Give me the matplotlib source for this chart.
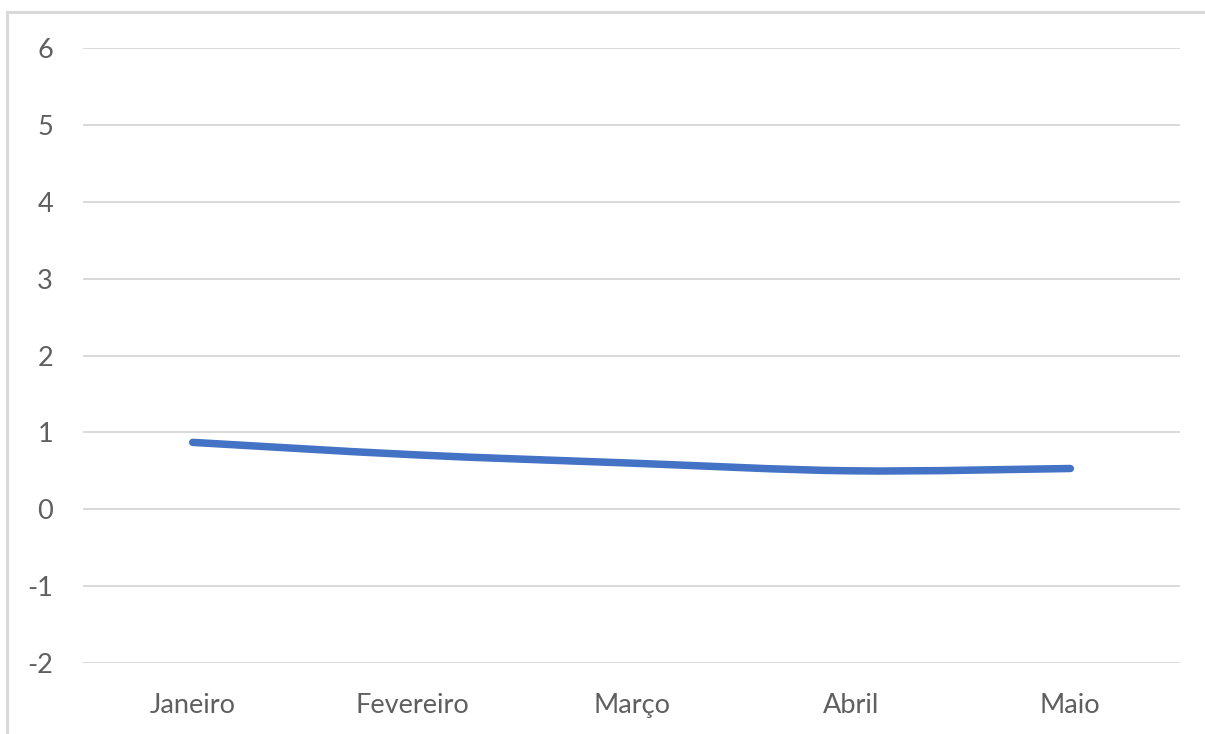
import numpy as np
import matplotlib
matplotlib.use("Agg")
import matplotlib.pyplot as plt
from matplotlib.path import Path
from matplotlib.patches import PathPatch
from matplotlib.lines import Line2D

# Monthly values
months = ["Janeiro", "Fevereiro", "Março", "Abril", "Maio"]
values = [0.87, 0.71, 0.60, 0.50, 0.53]
y_ticks = [-2, -1, 0, 1, 2, 3, 4, 5, 6]

plt.rcParams["font.family"] = ["Lato", "DejaVu Sans"]

W, H = 1205, 734
fig = plt.figure(figsize=(W / 100, H / 100), dpi=100)
ax = fig.add_axes([83 / W, (H - 663) / H, (1180 - 83) / W, (663 - 48) / H])

x = np.arange(len(months), dtype=float)
y = np.asarray(values, dtype=float)

# Smoothed line: Catmull-Rom segments expressed as cubic Bezier curves
pts = np.column_stack([x, y])
ext = np.vstack([pts[0], pts, pts[-1]])
verts = [tuple(pts[0])]
codes = [Path.MOVETO]
for i in range(len(pts) - 1):
    p0, p1, p2, p3 = ext[i], ext[i + 1], ext[i + 2], ext[i + 3]
    c1 = p1 + (p2 - p0) / 6.0
    c2 = p2 - (p3 - p1) / 6.0
    verts += [tuple(c1), tuple(c2), tuple(p2)]
    codes += [Path.CURVE4] * 3
ax.add_patch(PathPatch(Path(verts, codes), facecolor="none", edgecolor="#4472C4",
                       linewidth=5.4, capstyle="round", joinstyle="round", zorder=3))

ax.set_xlim(-0.5, len(months) - 0.5)
ax.set_ylim(-2, 6)
ax.set_yticks(y_ticks)
ax.set_yticklabels([str(t) for t in y_ticks])
ax.set_xticks(x)
ax.set_xticklabels(months)

ax.grid(axis="y", color="#d9d9d9", linewidth=1.4, zorder=0)
ax.grid(axis="x", visible=False)
for s in ax.spines.values():
    s.set_visible(False)
ax.tick_params(axis="both", length=0, labelsize=19.5, labelcolor="#5f5f5f")
ax.tick_params(axis="y", pad=21.5)
ax.tick_params(axis="x", pad=21.5)
ax.set_axisbelow(True)

# Chart area frame (left and top edges)
frame_kw = dict(color="#d9d9d9", linewidth=2.2, transform=fig.transFigure)
fig.add_artist(Line2D([7.5 / W, 7.5 / W], [0, 1 - 12 / H], **frame_kw))
fig.add_artist(Line2D([7.5 / W, 1], [1 - 12 / H, 1 - 12 / H], **frame_kw))

fig.savefig("out.png", dpi=100, facecolor="white")
